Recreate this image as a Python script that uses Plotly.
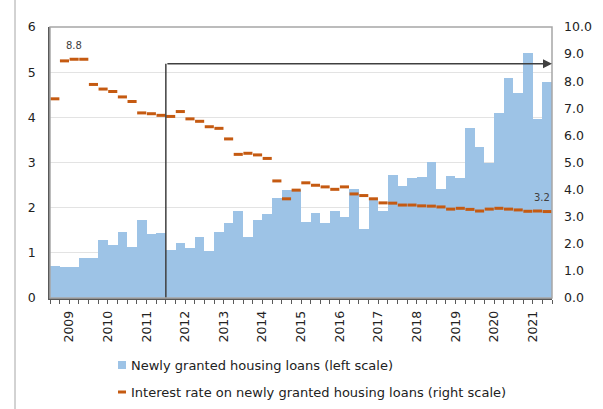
import plotly.graph_objects as go

years = [str(y) for y in range(2009, 2022)]
quarters = [f"{y}Q{q}" for y in years for q in range(1, 5)]

# Newly granted housing loans (left scale), quarterly
loans = [0.71, 0.68, 0.68, 0.88, 0.88, 1.28, 1.18, 1.46, 1.13, 1.72, 1.41, 1.43,
         1.06, 1.21, 1.11, 1.36, 1.04, 1.46, 1.67, 1.92, 1.35, 1.72, 1.86, 2.22,
         2.39, 2.39, 1.69, 1.89, 1.67, 1.92, 1.80, 2.41, 1.52, 2.16, 1.93, 2.72,
         2.48, 2.65, 2.68, 3.02, 2.41, 2.70, 2.66, 3.76, 3.34, 3.00, 4.09, 4.87,
         4.53, 5.43, 3.96, 4.78]

# Interest rate on newly granted housing loans (right scale)
rates = [7.35, 8.75, 8.81, 8.81, 7.88, 7.71, 7.62, 7.42, 7.25, 6.83, 6.80, 6.74,
         6.70, 6.88, 6.61, 6.52, 6.32, 6.26, 5.87, 5.30, 5.34, 5.28, 5.15, 4.32,
         3.66, 3.98, 4.25, 4.16, 4.10, 4.01, 4.10, 3.84, 3.78, 3.66, 3.51, 3.50,
         3.43, 3.43, 3.40, 3.39, 3.36, 3.28, 3.31, 3.27, 3.21, 3.28, 3.31, 3.28,
         3.25, 3.20, 3.21, 3.19]

labelled_points = [2, len(rates) - 1]
period_start = "2012Q1"
arrow_level = 8.64

legend_names = ["Newly granted housing loans (left scale)",
                "Interest rate on newly granted housing loans (right scale)"]

BLUE = "#9DC3E6"
ORANGE = "#C55A11"
FONT = "DejaVu Sans"
W, H = 603, 409
L, R, T, B = 50, 552, 27, 298

x = list(range(len(quarters)))

fig = go.Figure()
fig.add_trace(go.Bar(x=x, y=loans, marker=dict(color=BLUE, line=dict(width=0)),
                     name=legend_names[0], showlegend=False))
fig.add_trace(go.Scatter(x=x, y=rates, yaxis="y2", mode="markers",
                         marker=dict(symbol="line-ew", size=6.5,
                                     line=dict(color=ORANGE, width=3)),
                         name=legend_names[1], showlegend=False))

def px_x(p):
    return (p - L) / (R - L)

def px_y(p):
    return (B - p) / (B - T)

annotations = []
for i in labelled_points:
    annotations.append(dict(x=i, y=rates[i], xref="x", yref="y2", text=f"{rates[i]:.1f}",
                            showarrow=False, yshift=14, xshift=(-5 if i == len(rates) - 1 else 0),
                            font=dict(family=FONT, size=10, color="#404040")))

xs = quarters.index(period_start) - 0.5
annotations.append(dict(x=len(quarters) - 0.5, y=arrow_level, xref="x", yref="y2",
                        ax=xs, ay=arrow_level, axref="x", ayref="y2", text="",
                        showarrow=True, arrowhead=2, arrowsize=1.2, arrowwidth=1.5,
                        arrowcolor="#404040"))

# legend text
annotations.append(dict(x=px_x(129), y=px_y(365), xref="paper", yref="paper",
                        xanchor="left", yanchor="middle", showarrow=False,
                        text=legend_names[0], font=dict(family=FONT, size=13, color="#222")))
annotations.append(dict(x=px_x(129), y=px_y(392), xref="paper", yref="paper",
                        xanchor="left", yanchor="middle", showarrow=False,
                        text=legend_names[1], font=dict(family=FONT, size=13, color="#222")))

shapes = [
    dict(type="line", xref="x", yref="y2", x0=xs, x1=xs, y0=0, y1=arrow_level,
         line=dict(color="#404040", width=1.5)),
    dict(type="rect", xref="paper", yref="paper", x0=0, x1=1, y0=0, y1=1,
         line=dict(color="#A6A6A6", width=1.5), layer="above"),
    dict(type="rect", xref="paper", yref="paper", x0=px_x(118), x1=px_x(126),
         y0=px_y(369), y1=px_y(361), line=dict(width=0), fillcolor=BLUE),
    dict(type="line", xref="paper", yref="paper", x0=px_x(118), x1=px_x(126),
         y0=px_y(392), y1=px_y(392), line=dict(color=ORANGE, width=3)),
    dict(type="line", xref="paper", yref="paper", x0=px_x(15), x1=px_x(15),
         y0=px_y(0), y1=px_y(409), line=dict(color="#A6A6A6", width=1)),
]

fig.update_layout(
    width=W, height=H,
    margin=dict(l=L, r=W - R, t=T, b=H - B),
    paper_bgcolor="white", plot_bgcolor="white",
    bargap=0,
    font=dict(family=FONT, color="#222"),
    xaxis=dict(range=[-0.5, len(quarters) - 0.5], automargin=False,
               tickmode="array", tickvals=[4 * k + 1.5 for k in range(len(years))],
               ticktext=years, tickangle=-90, ticks="", ticklabelstandoff=6,
               tickfont=dict(size=12.5),
               minor=dict(tickmode="linear", tick0=-0.5, dtick=1, ticks="outside",
                          ticklen=4, tickcolor="#595959", showgrid=False),
               showline=True, linecolor="#595959", linewidth=1.5,
               showgrid=False, zeroline=False),
    yaxis=dict(range=[0, 6], dtick=1, showgrid=True, gridcolor="#E3E3E3",
               showline=True, linecolor="#595959", linewidth=1.5, automargin=False,
               ticks="", zeroline=False, ticklabelstandoff=10, tickfont=dict(size=12.5)),
    yaxis2=dict(range=[0, 10], dtick=1, overlaying="y", side="right", automargin=False,
                tickformat=".1f", showgrid=False, zeroline=False, ticks="",
                ticklabelstandoff=11, tickfont=dict(size=12.5)),
    annotations=annotations,
    shapes=shapes,
    showlegend=False,
)

fig.write_html("out.html", config={"displayModeBar": False},
               post_script="document.body.style.margin='0';document.body.style.overflow='hidden';")
